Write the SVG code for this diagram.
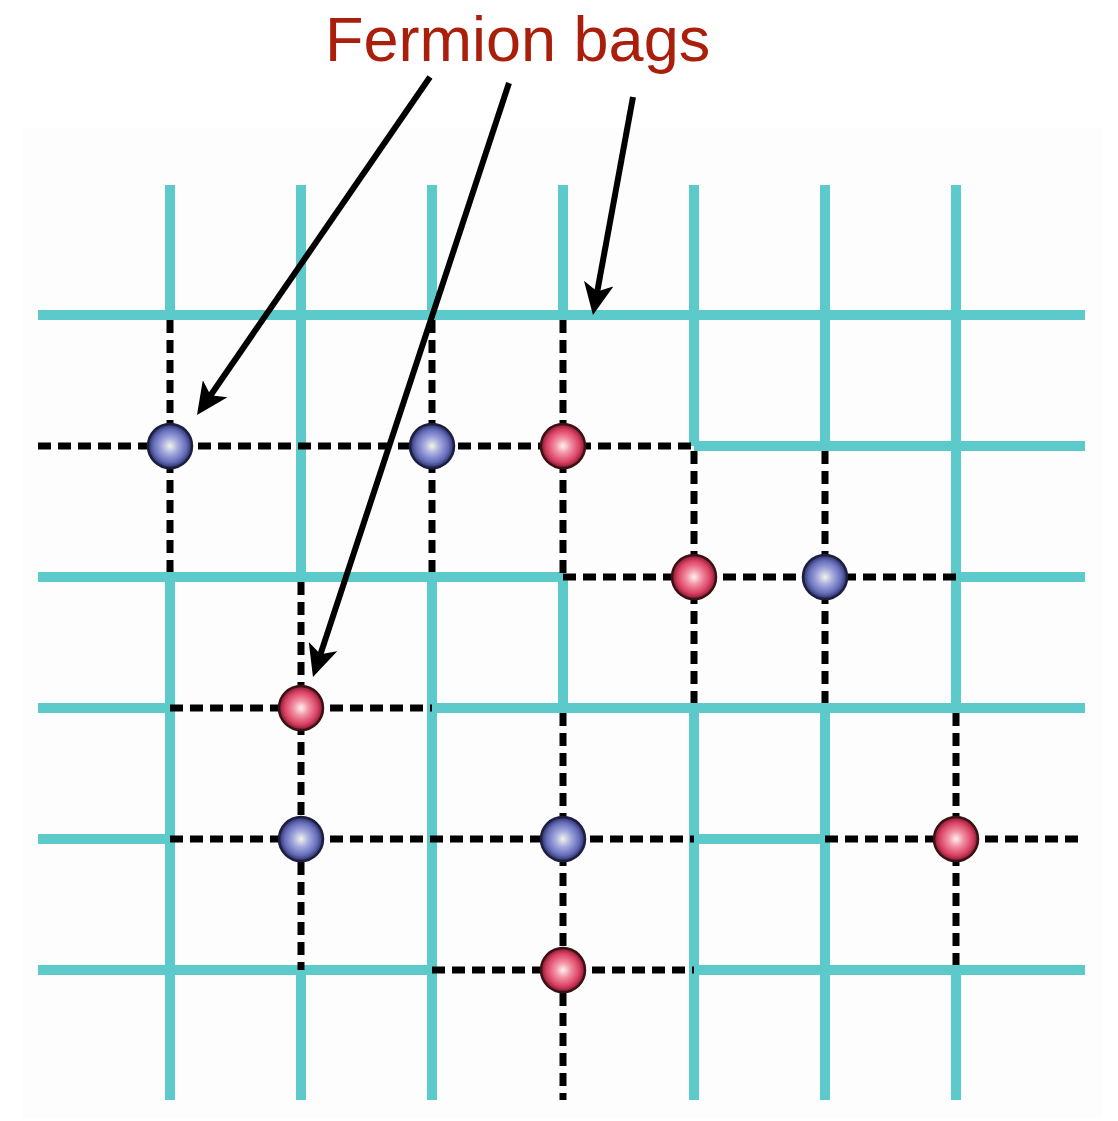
<svg xmlns="http://www.w3.org/2000/svg" width="1118" height="1121" viewBox="0 0 1118 1121">
<style>
.cy{stroke:#5CCACA;stroke-width:10;fill:none;stroke-linecap:butt}
.dash{stroke:#000;stroke-width:7;fill:none;stroke-dasharray:13 7}
.arrow{stroke:#000;stroke-width:6;fill:none;marker-end:url(#head)}
.blue{fill:url(#gBlue);stroke:#1d1f40;stroke-width:2.5}
.red{fill:url(#gRed);stroke:#3a1212;stroke-width:2.5}
.title{font-family:"Liberation Sans",Arial,sans-serif;font-size:63px;fill:#AA1E0C}
</style>
<defs>
<radialGradient id="gBlue" cx="50%" cy="50%" r="50%">
<stop offset="0%" stop-color="#f2f5e6"/>
<stop offset="35%" stop-color="#a8ace0"/>
<stop offset="75%" stop-color="#646cb8"/>
<stop offset="100%" stop-color="#2a2d62"/>
</radialGradient>
<radialGradient id="gRed" cx="50%" cy="50%" r="50%">
<stop offset="0%" stop-color="#fff2f0"/>
<stop offset="35%" stop-color="#f290a4"/>
<stop offset="75%" stop-color="#da4062"/>
<stop offset="100%" stop-color="#821832"/>
</radialGradient>
<marker id="head" markerUnits="userSpaceOnUse" markerWidth="32" markerHeight="30" refX="14" refY="15" orient="auto">
<path d="M0,0 L32,15 L0,30 L8,15 Z" fill="#000"/>
</marker>
</defs>
<rect x="0" y="0" width="1118" height="1121" fill="#ffffff"/>
<rect x="22" y="128" width="1080" height="990" fill="#fdfdfd"/>
<g id="lattice">
<g id="cyan-bonds">
<line class="cy" x1="38" y1="315" x2="1085" y2="315"/>
<line class="cy" x1="694" y1="446" x2="1085" y2="446"/>
<line class="cy" x1="38" y1="577" x2="563" y2="577"/>
<line class="cy" x1="956" y1="577" x2="1085" y2="577"/>
<line class="cy" x1="38" y1="708" x2="170" y2="708"/>
<line class="cy" x1="432" y1="708" x2="1085" y2="708"/>
<line class="cy" x1="38" y1="839" x2="170" y2="839"/>
<line class="cy" x1="694" y1="839" x2="825" y2="839"/>
<line class="cy" x1="38" y1="970" x2="432" y2="970"/>
<line class="cy" x1="694" y1="970" x2="1085" y2="970"/>
<line class="cy" x1="170" y1="185" x2="170" y2="315"/>
<line class="cy" x1="170" y1="577" x2="170" y2="1100"/>
<line class="cy" x1="301" y1="185" x2="301" y2="577"/>
<line class="cy" x1="301" y1="970" x2="301" y2="1100"/>
<line class="cy" x1="432" y1="185" x2="432" y2="315"/>
<line class="cy" x1="432" y1="577" x2="432" y2="1100"/>
<line class="cy" x1="563" y1="185" x2="563" y2="315"/>
<line class="cy" x1="563" y1="577" x2="563" y2="708"/>
<line class="cy" x1="694" y1="185" x2="694" y2="446"/>
<line class="cy" x1="694" y1="708" x2="694" y2="1100"/>
<line class="cy" x1="825" y1="185" x2="825" y2="446"/>
<line class="cy" x1="825" y1="708" x2="825" y2="1100"/>
<line class="cy" x1="956" y1="185" x2="956" y2="708"/>
<line class="cy" x1="956" y1="970" x2="956" y2="1100"/>
</g>
<g id="dashed-bonds">
<line class="dash" x1="38" y1="446" x2="694" y2="446"/>
<line class="dash" x1="563" y1="577" x2="956" y2="577"/>
<line class="dash" x1="170" y1="708" x2="432" y2="708"/>
<line class="dash" x1="170" y1="839" x2="694" y2="839"/>
<line class="dash" x1="825" y1="839" x2="1085" y2="839"/>
<line class="dash" x1="432" y1="970" x2="694" y2="970"/>
<line class="dash" x1="170" y1="320" x2="170" y2="572"/>
<line class="dash" x1="301" y1="582" x2="301" y2="970"/>
<line class="dash" x1="432" y1="320" x2="432" y2="572"/>
<line class="dash" x1="563" y1="320" x2="563" y2="577"/>
<line class="dash" x1="563" y1="713" x2="563" y2="1100"/>
<line class="dash" x1="694" y1="451" x2="694" y2="703"/>
<line class="dash" x1="825" y1="451" x2="825" y2="703"/>
<line class="dash" x1="956" y1="713" x2="956" y2="965"/>
</g>
</g>
<g id="sites">
<circle id="b1" class="blue" cx="170" cy="446" r="22"/>
<circle id="b2" class="blue" cx="432" cy="446" r="22"/>
<circle id="r1" class="red" cx="563" cy="446" r="22"/>
<circle id="r2" class="red" cx="694" cy="577" r="22"/>
<circle id="b3" class="blue" cx="825" cy="577" r="22"/>
<circle id="r3" class="red" cx="301" cy="708" r="22"/>
<circle id="b4" class="blue" cx="301" cy="839" r="22"/>
<circle id="b5" class="blue" cx="563" cy="839" r="22"/>
<circle id="r4" class="red" cx="956" cy="839" r="22"/>
<circle id="r5" class="red" cx="563" cy="970" r="22"/>
</g>
<g id="label">
<text class="title" x="325" y="61">Fermion bags</text>
</g>
<g id="connectors">
<line class="arrow" x1="430" y1="77" x2="207.2" y2="400.2"/>
<line class="arrow" x1="509" y1="83" x2="318.6" y2="659.9"/>
<line class="arrow" x1="633" y1="97" x2="596.2" y2="297.3"/>
</g>
</svg>
